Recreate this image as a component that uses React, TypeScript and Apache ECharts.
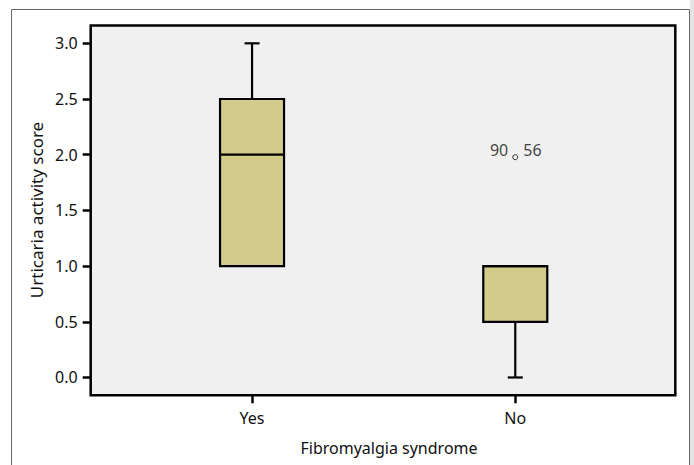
import React, { useEffect, useRef } from "react";
import * as echarts from "echarts";

const categories = ["Yes", "No"];
const positions = [1, 2];
const whiskerLow = [1.0, 0.0];
const q1 = [1.0, 0.5];
const median = [2.0, 1.0];
const q3 = [2.5, 1.0];
const whiskerHigh = [3.0, 1.0];
const outlierPos = [2];
const outlierValue = [2.0];
const outlierCases = ["90", "56"];
const yTicks = [0, 0.5, 1.0, 1.5, 2.0, 2.5, 3.0];

const FONT = "Noto Sans";
const TXT = "#111";

export default function App() {
  const ref = useRef<HTMLDivElement>(null);
  useEffect(() => {
    const chart = echarts.init(ref.current!, null, { renderer: "svg" });
    const boxData = positions.map((p, i) => [p, whiskerLow[i], q1[i], median[i], q3[i], whiskerHigh[i]]);
    const BOXW = 64;
    const CAPW = 15;
    chart.setOption({
      animation: false,
      grid: {
        left: 90.7,
        top: 25.5,
        right: 18.7,
        bottom: 69.7,
        show: true,
        backgroundColor: "#f0f0f0",
        borderColor: "#000",
        borderWidth: 2.5,
      },
      xAxis: {
        type: "value",
        min: 0.387,
        max: 2.608,
        axisLine: { show: false, onZero: false },
        splitLine: { show: false },
        axisTick: { show: true, length: 8, lineStyle: { color: "#000", width: 2.5 }, customValues: positions },
        axisLabel: {
          customValues: positions,
          formatter: (v: number) => categories[positions.indexOf(Math.round(v))] ?? "",
          color: TXT,
          fontFamily: FONT,
          fontSize: 16,
          margin: 15,
        },
      },
      yAxis: {
        type: "value",
        min: -0.16,
        max: 3.16,
        axisLine: { show: false, onZero: false },
        splitLine: { show: false },
        axisTick: { show: true, length: 8, lineStyle: { color: "#000", width: 2.5 }, customValues: yTicks },
        axisLabel: {
          customValues: yTicks,
          formatter: (v: number) => v.toFixed(1),
          color: TXT,
          fontFamily: FONT,
          fontSize: 16,
          margin: 13,
        },
      },
      series: [
        {
          type: "custom",
          data: boxData,
          renderItem: (params: any, api: any) => {
            const x = api.value(0);
            const lo = api.coord([x, api.value(1)]);
            const b1 = api.coord([x, api.value(2)]);
            const md = api.coord([x, api.value(3)]);
            const b3 = api.coord([x, api.value(4)]);
            const hi = api.coord([x, api.value(5)]);
            const cx = lo[0];
            const ls = { stroke: "#000", lineWidth: 2.2 };
            const children: any[] = [];
            if (hi[1] < b3[1] - 0.5) {
              children.push({ type: "line", shape: { x1: cx, y1: hi[1], x2: cx, y2: b3[1] }, style: ls });
              children.push({ type: "line", shape: { x1: cx - CAPW / 2, y1: hi[1], x2: cx + CAPW / 2, y2: hi[1] }, style: ls });
            }
            if (lo[1] > b1[1] + 0.5) {
              children.push({ type: "line", shape: { x1: cx, y1: b1[1], x2: cx, y2: lo[1] }, style: ls });
              children.push({ type: "line", shape: { x1: cx - CAPW / 2, y1: lo[1], x2: cx + CAPW / 2, y2: lo[1] }, style: ls });
            }
            children.push({
              type: "rect",
              shape: { x: cx - BOXW / 2, y: b3[1], width: BOXW, height: b1[1] - b3[1] },
              style: { fill: "#d3cb8c", stroke: "#000", lineWidth: 2.2 },
            });
            children.push({ type: "line", shape: { x1: cx - BOXW / 2, y1: md[1], x2: cx + BOXW / 2, y2: md[1] }, style: ls });
            return { type: "group", children };
          },
        },
        {
          type: "scatter",
          data: outlierPos.map((p, i) => [p, outlierValue[i]]),
          symbol: "circle",
          symbolSize: 5,
          symbolOffset: [0, 2.5],
          itemStyle: { color: "#f0f0f0", borderColor: "#000", borderWidth: 1 },
          z: 5,
        },
        {
          type: "scatter",
          symbolSize: 0,
          data: outlierCases.map((c, i) => ({
            value: [outlierPos[0], outlierValue[0]],
            label: {
              show: true,
              formatter: c,
              position: i === 0 ? "left" : "right",
              distance: i === 0 ? 7 : 8,
              offset: [0, -5],
              color: TXT,
              fontFamily: FONT,
              fontSize: 16,
            },
          })),
          z: 6,
        },
      ],
      graphic: [
        {
          type: "rect",
          shape: { x: 11.5, y: 9.5, width: 678, height: 470 },
          style: { fill: "none", stroke: "#666", lineWidth: 1 },
          silent: true,
          z: -1,
        },
        {
          type: "rect",
          shape: { x: 690, y: 0, width: 4, height: 465 },
          style: { fill: "#e4e4e4" },
          silent: true,
          z: -2,
        },
        {
          type: "text",
          x: 36,
          y: 210,
          rotation: Math.PI / 2,
          style: {
            text: "Urticaria activity score",
            fill: TXT,
            font: `17px "${FONT}"`,
            align: "center",
            verticalAlign: "middle",
          },
        },
        {
          type: "text",
          x: 389,
          y: 448,
          style: {
            text: "Fibromyalgia syndrome",
            fill: TXT,
            font: `16px "${FONT}"`,
            align: "center",
            verticalAlign: "middle",
          },
        },
      ],
    });
    return () => chart.dispose();
  }, []);
  return (
    <div
      ref={ref}
      style={{ position: "fixed", left: 0, top: 0, width: 694, height: 465, background: "#fff" }}
    />
  );
}
